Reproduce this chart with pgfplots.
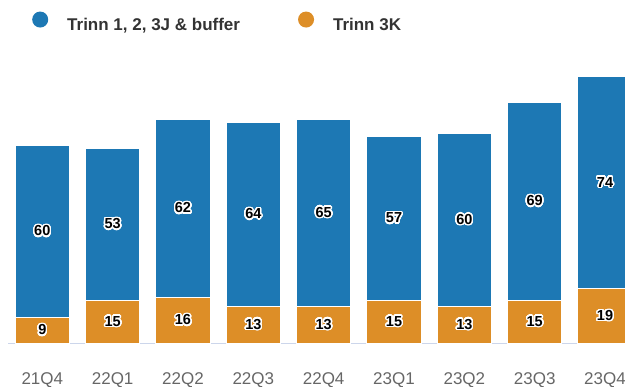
\documentclass[border=0pt]{standalone}
\usepackage{pgfplots}
\pgfplotsset{compat=1.18}
\usepackage{fontspec}
\setmainfont{Liberation Sans}
\usepackage{contour}
\contourlength{1.4bp}
\contournumber{32}
\definecolor{cblue}{RGB}{29,120,180}
\definecolor{corange}{RGB}{221,142,39}
\definecolor{axisgray}{RGB}{204,214,235}
\definecolor{ticktext}{RGB}{102,102,102}
\definecolor{legtext}{RGB}{51,51,51}
\pgfplotsset{
  base/.style={
    at={(8bp,43.5bp)}, anchor=south west,
    scale only axis, width=617bp, height=283.5bp,
    xmin=-0.4876, xmax=8.284, ymin=0, ymax=98.78,
  }
}
\begin{document}
\begin{tikzpicture}
\useasboundingbox (0,0) rectangle (625bp,387bp);
\begin{axis}[base,
  ybar stacked, bar width=54.5bp,
  axis x line*=bottom, axis y line=none,
  x axis line style={draw=axisgray, line width=1bp},
  xtick={0,1,2,3,4,5,6,7,8},
  xticklabels={21Q4,22Q1,22Q2,22Q3,22Q4,23Q1,23Q2,23Q3,23Q4},
  major tick length=0pt,
  xticklabel style={anchor=base, yshift=-40.5bp, font=\fontsize{17bp}{20bp}\selectfont, text=ticktext},
  ytick=\empty,
  reverse legend,
  legend columns=2,
  legend style={draw=none, fill=none, inner sep=0pt,
    at={(0,1)}, anchor=west, xshift=24bp, yshift=38bp,
    nodes={inner sep=0pt, font=\bfseries\fontsize{17bp}{20bp}\selectfont, text=legtext},
    /tikz/every even column/.append style={column sep=58bp}},
]
\addplot[fill=corange, draw=white, line width=1bp,
  legend image code/.code={\fill[corange, draw=none] (0bp,6bp) circle (8bp); \path[draw=none, fill=none] (-8bp,0bp) -- (27bp,0bp);}]
  coordinates {(0,9) (1,15) (2,16) (3,13) (4,13) (5,15) (6,13) (7,15) (8,19)};
\addlegendentry{Trinn 3K}
\addplot[fill=cblue, draw=white, line width=1bp,
  legend image code/.code={\fill[cblue, draw=none] (0bp,6bp) circle (8bp); \path[draw=none, fill=none] (-8bp,0bp) -- (27bp,0bp);}]
  coordinates {(0,60) (1,53) (2,62) (3,64) (4,65) (5,57) (6,60) (7,69) (8,74)};
\addlegendentry{Trinn 1, 2, 3J \& buffer}
\end{axis}
\begin{axis}[base, hide axis]
\addplot[draw=none, mark=none, point meta=explicit symbolic,
  nodes near coords={\contour{white}{\pgfplotspointmeta}},
  nodes near coords style={anchor=center, font=\bfseries\fontsize{14.5bp}{17bp}\selectfont, text=black}]
  coordinates {(0,4.5)[9] (1,7.5)[15] (2,8)[16] (3,6.5)[13] (4,6.5)[13] (5,7.5)[15] (6,6.5)[13] (7,7.5)[15] (8,9.5)[19]
               (0,39)[60] (1,41.5)[53] (2,47)[62] (3,45)[64] (4,45.5)[65] (5,43.5)[57] (6,43)[60] (7,49.5)[69] (8,56)[74]};
\end{axis}
\end{tikzpicture}
\end{document}
